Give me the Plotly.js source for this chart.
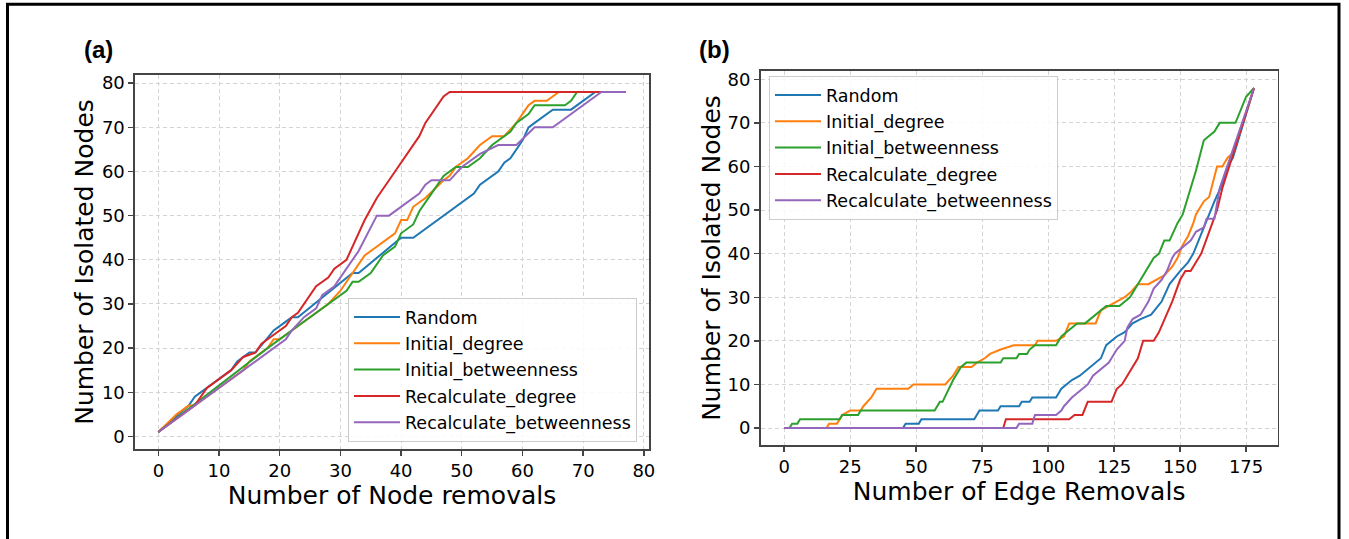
<!DOCTYPE html>
<html>
<head>
<meta charset="utf-8">
<script src="https://cdn.plot.ly/plotly-3.0.1.min.js"></script>
<style>
  html, body { margin: 0; padding: 0; background: #fff; }
  #chart { width: 1349px; height: 539px; }
</style>
</head>
<body>
<div id="chart"></div>
<script>
// ---------- series names and colours ----------
const seriesNames = ["Random", "Initial_degree", "Initial_betweenness", "Recalculate_degree", "Recalculate_betweenness"];
const seriesColors = ["#1f77b4", "#ff7f0e", "#2ca02c", "#d62728", "#9467bd"];

// ---------- panel (a): node removals ----------
const aRandomX = [0, 5, 6, 12, 13, 15, 16, 19, 21, 22, 23, 32, 33, 40, 42, 52, 53, 56, 57, 58, 60, 61, 62, 65, 68, 72, 77];
const aRandomY = [1, 7, 9, 15, 17, 19, 19, 24, 26, 27, 27, 37, 37, 45, 45, 55, 57, 60, 62, 63, 67, 70, 71, 74, 74, 78, 78];

const aInitDegX = [0, 3, 5, 6, 14, 15, 18, 19, 20, 28, 30, 31, 34, 39, 40, 41, 42, 44, 47, 48, 49, 51, 53, 55, 57, 59, 61, 62, 64, 66, 77];
const aInitDegY = [1, 5, 7, 7, 15, 17, 20, 22, 22, 30, 33, 35, 41, 46, 49, 49, 52, 54, 58, 59, 61, 63, 66, 68, 68, 71, 75, 76, 76, 78, 78];

const aInitBetX = [0, 18, 23, 28, 31, 32, 33, 35, 37, 39, 40, 42, 43, 45, 47, 49, 51, 53, 55, 58, 59, 61, 62, 67, 68, 69, 77];
const aInitBetY = [1, 20, 25, 30, 33, 35, 35, 37, 41, 43, 46, 48, 51, 55, 59, 61, 61, 63, 66, 69, 71, 73, 75, 75, 76, 78, 78];

const aRecDegX = [0, 6, 7, 8, 12, 14, 16, 17, 18, 21, 22, 23, 26, 28, 29, 31, 34, 36, 39, 43, 44, 47, 48, 77];
const aRecDegY = [1, 7, 9, 11, 15, 18, 19, 21, 22, 25, 27, 28, 34, 36, 38, 40, 49, 54, 60, 68, 71, 77, 78, 78];

const aRecBetX = [0, 21, 22, 24, 26, 27, 29, 31, 33, 36, 38, 43, 44, 45, 48, 50, 53, 56, 59, 62, 65, 73, 77];
const aRecBetY = [1, 22, 24, 27, 29, 32, 34, 38, 42, 50, 50, 55, 57, 58, 58, 61, 64, 66, 66, 70, 70, 78, 78];

// ---------- panel (b): edge removals ----------
const bRandomX = [0, 45, 46, 51, 52, 72, 74, 81, 82, 89, 90, 93, 94, 103, 105, 109, 112, 116, 120, 122, 126, 129, 132, 135, 139, 143, 146, 150, 153, 155, 157, 159, 161, 163, 166, 168, 170, 178];
const bRandomY = [0, 0, 1, 1, 2, 2, 4, 4, 5, 5, 6, 6, 7, 7, 9, 11, 12, 14, 16, 19, 21, 22, 24, 25, 26, 29, 33, 36, 38, 40, 43, 46, 49, 52, 56, 60, 62, 78];

const bInitDegX = [0, 16, 17, 20, 22, 25, 29, 30, 33, 35, 47, 49, 61, 64, 66, 71, 73, 76, 78, 82, 87, 95, 96, 103, 106, 108, 118, 120, 123, 126, 129, 131, 134, 138, 141, 144, 147, 149, 151, 153, 155, 156, 159, 161, 164, 166, 168, 170, 178];
const bInitDegY = [0, 0, 1, 1, 3, 4, 4, 5, 7, 9, 9, 10, 10, 12, 14, 14, 15, 16, 17, 18, 19, 19, 20, 20, 21, 24, 24, 27, 28, 29, 30, 31, 33, 33, 34, 35, 37, 39, 42, 44, 47, 49, 52, 53, 60, 60, 62, 63, 78];

const bInitBetX = [0, 2, 3, 5, 6, 21, 22, 28, 29, 57, 59, 60, 64, 67, 69, 82, 83, 88, 89, 92, 93, 95, 103, 105, 107, 109, 111, 114, 116, 118, 120, 122, 127, 129, 131, 134, 136, 138, 140, 142, 144, 146, 149, 151, 153, 156, 159, 161, 163, 165, 171, 175, 178];
const bInitBetY = [0, 0, 1, 1, 2, 2, 3, 3, 4, 4, 6, 6, 11, 14, 15, 15, 16, 16, 17, 17, 18, 19, 19, 21, 22, 23, 24, 24, 25, 26, 27, 28, 28, 29, 30, 33, 35, 37, 39, 40, 43, 43, 47, 49, 53, 59, 66, 67, 68, 70, 70, 76, 78];

const bRecDegX = [0, 83, 84, 108, 110, 113, 115, 124, 126, 128, 130, 132, 134, 136, 140, 142, 145, 147, 150, 152, 154, 155, 158, 161, 164, 166, 178];
const bRecDegY = [0, 0, 2, 2, 3, 3, 6, 6, 9, 10, 12, 14, 16, 20, 20, 22, 26, 29, 34, 36, 36, 37, 40, 45, 50, 55, 78];

const bRecBetX = [0, 88, 89, 94, 95, 103, 105, 106, 109, 111, 113, 115, 117, 119, 121, 123, 124, 126, 129, 130, 132, 135, 136, 138, 140, 143, 145, 147, 148, 150, 152, 154, 155, 156, 159, 160, 163, 165, 178];
const bRecBetY = [0, 0, 1, 1, 3, 3, 4, 5, 7, 8, 9, 10, 12, 13, 14, 15, 16, 18, 20, 23, 25, 26, 27, 29, 32, 34, 36, 39, 40, 41, 42, 43, 44, 45, 46, 48, 48, 55, 78];

// ---------- axis ticks ----------
const aXTicks = [0, 10, 20, 30, 40, 50, 60, 70, 80];
const aYTicks = [0, 10, 20, 30, 40, 50, 60, 70, 80];
const bXTicks = [0, 25, 50, 75, 100, 125, 150, 175];
const bYTicks = [0, 10, 20, 30, 40, 50, 60, 70, 80];

const aXs = [aRandomX, aInitDegX, aInitBetX, aRecDegX, aRecBetX];
const aYs = [aRandomY, aInitDegY, aInitBetY, aRecDegY, aRecBetY];
const bXs = [bRandomX, bInitDegX, bInitBetX, bRecDegX, bRecBetX];
const bYs = [bRandomY, bInitDegY, bInitBetY, bRecDegY, bRecBetY];

const FONT = "DejaVu Sans, Liberation Sans, sans-serif";
const LABELFONT = "Liberation Sans, Arial, sans-serif";
const traces = [];
for (let i = 0; i < 5; i++) {
  traces.push({
    type: "scatter", mode: "lines", name: seriesNames[i],
    x: aXs[i], y: aYs[i], xaxis: "x", yaxis: "y",
    line: {color: seriesColors[i], width: 2},
    legend: "legend", legendgroup: "a" + i, hoverinfo: "x+y+name"
  });
}
for (let i = 0; i < 5; i++) {
  traces.push({
    type: "scatter", mode: "lines", name: seriesNames[i],
    x: bXs[i], y: bYs[i], xaxis: "x2", yaxis: "y2",
    line: {color: seriesColors[i], width: 2},
    legend: "legend2", legendgroup: "b" + i, hoverinfo: "x+y+name"
  });
}

const W = 1349, H = 539;
function axisBase() {
  return {
    showline: true, mirror: true, linecolor: "#444", linewidth: 1.6,
    ticks: "outside", ticklen: 5, tickwidth: 1.4, tickcolor: "#444",
    showgrid: true, gridcolor: "#d4d4d4", gridwidth: 1, griddash: "4px,3px",
    zeroline: false, tickfont: {family: FONT, size: 18, color: "#000"},
    fixedrange: true
  };
}
function legendBase(x, y) {
  return {
    x: x, y: y, xanchor: "left", yanchor: "top",
    bgcolor: "rgba(255,255,255,0.85)", bordercolor: "#cccccc", borderwidth: 1,
    font: {family: FONT, size: 17.5, color: "#000"}, tracegroupgap: 0.6, itemwidth: 46
  };
}

const layout = {
  width: W, height: H,
  margin: {l: 0, r: 0, t: 0, b: 0, autoexpand: false},
  paper_bgcolor: "#fff", plot_bgcolor: "#fff",
  font: {family: FONT, color: "#000"},
  showlegend: true,
  xaxis: Object.assign(axisBase(), {
    domain: [135 / W, 649 / W], range: [-3.85, 80.85], tickvals: aXTicks, anchor: "y",
    title: {text: "Number of Node removals", font: {family: FONT, size: 25}, standoff: 0}
  }),
  yaxis: Object.assign(axisBase(), {
    domain: [1 - 449 / H, 1 - 75 / H], range: [-2.85, 81.85], tickvals: aYTicks, anchor: "x",
    title: {text: "Number of Isolated Nodes", font: {family: FONT, size: 25}, standoff: 1}
  }),
  xaxis2: Object.assign(axisBase(), {
    domain: [760.7 / W, 1277.5 / W], range: [-8.9, 186.9], tickvals: bXTicks, anchor: "y2",
    title: {text: "Number of Edge Removals", font: {family: FONT, size: 25}, standoff: 0}
  }),
  yaxis2: Object.assign(axisBase(), {
    domain: [1 - 445 / H, 1 - 71 / H], range: [-3.9, 81.9], tickvals: bYTicks, anchor: "x2",
    title: {text: "Number of Isolated Nodes", font: {family: FONT, size: 25}, standoff: 0}
  }),
  legend: legendBase(348 / W, 1 - 298 / H),
  legend2: legendBase(769 / W, 1 - 76 / H),
  annotations: [
    {text: "<b>(a)</b>", xref: "paper", yref: "paper", x: 98 / W, y: 1 - 49 / H,
     xanchor: "center", yanchor: "middle", showarrow: false, font: {family: LABELFONT, size: 24, color: "#000"}},
    {text: "<b>(b)</b>", xref: "paper", yref: "paper", x: 714 / W, y: 1 - 49 / H,
     xanchor: "center", yanchor: "middle", showarrow: false, font: {family: LABELFONT, size: 24, color: "#000"}}
  ],
  shapes: [
    {type: "rect", xref: "paper", yref: "paper", x0: 7.5 / W, x1: 1339 / W, y0: -0.05, y1: 1 - 4.3 / H,
     line: {color: "#000", width: 3}, fillcolor: "rgba(0,0,0,0)", layer: "above"}
  ]
};

Plotly.newPlot("chart", traces, layout, {displayModeBar: false, staticPlot: true});
</script>
</body>
</html>
